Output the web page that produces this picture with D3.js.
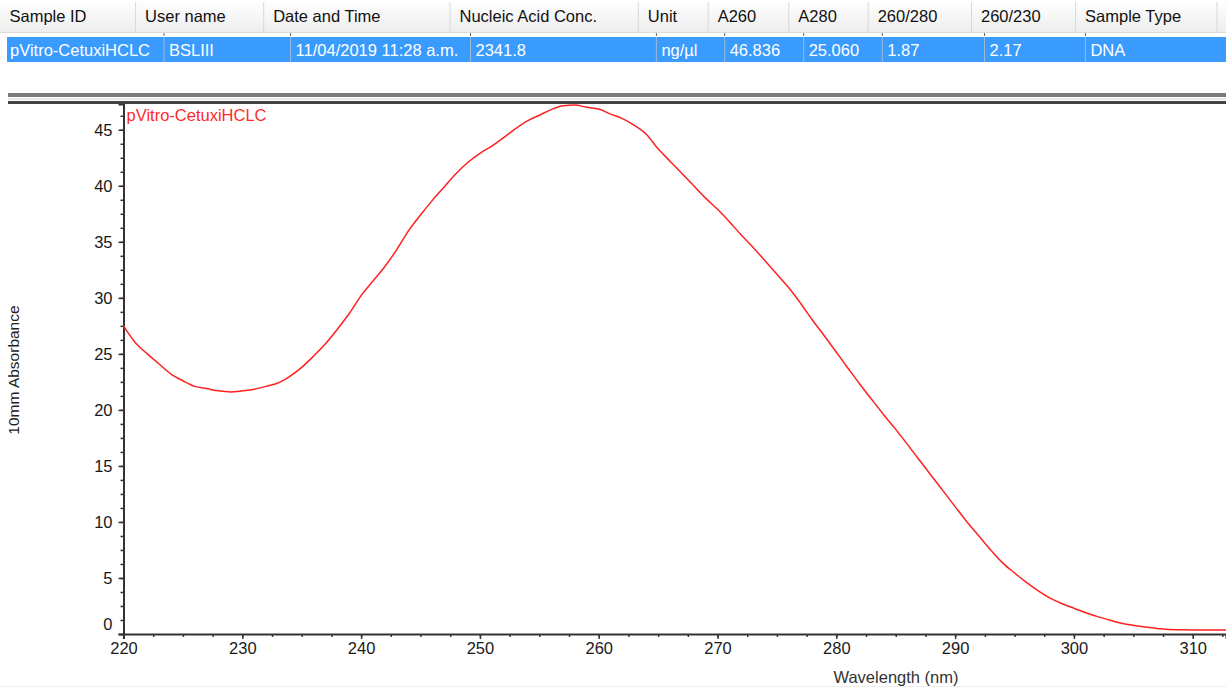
<!DOCTYPE html>
<html>
<head>
<meta charset="utf-8">
<script src="https://cdn.jsdelivr.net/npm/d3@7/dist/d3.min.js"></script>
<style>
  html, body { margin: 0; padding: 0; background: #fff; }
  svg { display: block; font-family: "Liberation Sans", Arial, sans-serif; }
</style>
</head>
<body>
<svg id="chart" width="1226" height="687"></svg>
<script>
// ---------- data ----------
const tableHeaders = ["Sample ID", "User name", "Date and Time", "Nucleic Acid Conc.", "Unit", "A260", "A280", "260/280", "260/230", "Sample Type"];
const tableRow = ["pVitro-CetuxiHCLC", "BSLIII", "11/04/2019 11:28 a.m.", "2341.8", "ng/µl", "46.836", "25.060", "1.87", "2.17", "DNA"];
const seriesName = "pVitro-CetuxiHCLC";
const wavelength = [220,221,222,223,224,225,226,227,228,229,230,231,232,233,234,235,236,237,238,239,
  240,241,242,243,244,245,246,247,248,249,250,251,252,253,254,255,256,257,258,259,
  260,261,262,263,264,265,266,267,268,269,270,271,272,273,274,275,276,277,278,279,
  280,281,282,283,284,285,286,287,288,289,290,291,292,293,294,295,296,297,298,299,
  300,301,302,303,304,305,306,307,308,309,310,311,312,312.8];
const absorbance = [27.5,26.0,25.0,24.1,23.2,22.6,22.1,21.9,21.7,21.6,21.7,21.85,22.1,22.4,23.0,23.8,24.8,25.9,27.2,28.6,
  30.2,31.5,32.8,34.3,36.0,37.4,38.7,39.9,41.1,42.1,42.9,43.55,44.3,45.1,45.8,46.3,46.8,47.15,47.2,47.0,
  46.85,46.4,46.0,45.4,44.6,43.3,42.2,41.1,40.0,38.9,37.9,36.8,35.6,34.5,33.3,32.1,30.9,29.5,28.0,26.6,
  25.15,23.7,22.27,20.9,19.55,18.26,16.9,15.5,14.13,12.75,11.37,10.0,8.75,7.5,6.35,5.45,4.6,3.85,3.2,2.7,
  2.3,1.9,1.55,1.25,0.95,0.78,0.62,0.5,0.4,0.38,0.36,0.35,0.35,0.35];
const xMajorTicks = [220,230,240,250,260,270,280,290,300,310];
const yMajorTicks = [0,5,10,15,20,25,30,35,40,45];
const xLabel = "Wavelength (nm)";
const yLabel = "10mm Absorbance";

// ---------- layout ----------
const headerCols = [0, 135.6, 263.7, 450, 638.3, 708.2, 788.8, 868.2, 971.5, 1075.6, 1217];
const rowCols = [7, 164, 290.6, 470.5, 656.4, 724.7, 803.7, 882.3, 984.5, 1085.4, 1226];
const plot = { left: 123.5, right: 1226, top: 104, bottom: 634 };

const svg = d3.select("#chart");

// ---------- table ----------
const defs = svg.append("defs");
const grad = defs.append("linearGradient").attr("id", "hdr").attr("x1", 0).attr("y1", 0).attr("x2", 0).attr("y2", 1);
grad.append("stop").attr("offset", "0%").attr("stop-color", "#ffffff");
grad.append("stop").attr("offset", "100%").attr("stop-color", "#eeeeee");

svg.append("rect").attr("x", 0).attr("y", 0).attr("width", 1226).attr("height", 32).attr("fill", "url(#hdr)");
svg.append("line").attr("x1", 0).attr("x2", 1226).attr("y1", 32.5).attr("y2", 32.5).attr("stroke", "#dcdcdc");
svg.selectAll("line.hsep").data(headerCols.slice(1)).join("line")
  .attr("class", "hsep").attr("x1", d => d).attr("x2", d => d).attr("y1", 2).attr("y2", 32)
  .attr("stroke", "#d8d8d8");
svg.selectAll("text.hdr").data(tableHeaders).join("text")
  .attr("class", "hdr").attr("x", (d, i) => headerCols[i] + 9.5).attr("y", 22)
  .attr("font-size", 16.5).attr("fill", "#111").text(d => d);
svg.selectAll("line.hmark").data(rowCols.slice(1, -1)).join("line")
  .attr("class", "hmark").attr("x1", d => d).attr("x2", d => d).attr("y1", 33).attr("y2", 36)
  .attr("stroke", "#666");

svg.append("rect").attr("x", 7).attr("y", 37).attr("width", 1219).attr("height", 25).attr("fill", "#3a9bff");
svg.selectAll("line.rsep").data(rowCols.slice(1, -1)).join("line")
  .attr("class", "rsep").attr("x1", d => d).attr("x2", d => d).attr("y1", 37).attr("y2", 62)
  .attr("stroke", "#9cb8d8").attr("stroke-width", 1);
svg.selectAll("text.cell").data(tableRow).join("text")
  .attr("class", "cell").attr("x", (d, i) => rowCols[i] + (i === 0 ? 3 : 5)).attr("y", 56)
  .attr("font-size", 16.5).attr("fill", "#ffffff").text(d => d);

// separator double line
svg.append("rect").attr("x", 8).attr("y", 93).attr("width", 1218).attr("height", 4).attr("fill", "#7a7a7a");
svg.append("rect").attr("x", 8).attr("y", 98.5).attr("width", 1218).attr("height", 1).attr("fill", "#d0d0d0");
svg.append("rect").attr("x", 8).attr("y", 101).attr("width", 1218).attr("height", 3).attr("fill", "#444");

// ---------- chart ----------
const x = d3.scaleLinear().domain([220, 312.8]).range([plot.left, plot.right]);
const y = d3.scaleLinear().domain([0, 47.3]).range([plot.bottom, plot.top]);

const axisColor = "#333";

// minor ticks
svg.append("g").attr("transform", `translate(0,${plot.bottom})`)
  .call(d3.axisBottom(x).tickValues(d3.range(220, 312.8, 2.5)).tickSize(3).tickFormat(""))
  .call(g => g.select(".domain").remove())
  .call(g => g.selectAll("line").attr("stroke", axisColor).attr("stroke-width", 1.5));
svg.append("g").attr("transform", `translate(${plot.left},0)`)
  .call(d3.axisLeft(y).tickValues(d3.range(0, 47.3, 1.25)).tickSize(3).tickFormat(""))
  .call(g => g.select(".domain").remove())
  .call(g => g.selectAll("line").attr("stroke", axisColor).attr("stroke-width", 1.5));

// major ticks + labels
const gx = svg.append("g").attr("transform", `translate(0,${plot.bottom})`)
  .call(d3.axisBottom(x).tickValues(xMajorTicks).tickSize(5).tickPadding(3).tickFormat(d3.format("d")));
gx.select(".domain").attr("stroke", axisColor).attr("stroke-width", 2);
gx.selectAll(".tick line").attr("stroke", axisColor).attr("stroke-width", 1.5);
gx.selectAll(".tick text").attr("font-size", 16.5).attr("fill", "#1a1a1a")
  .attr("font-family", "Liberation Sans, Arial, sans-serif");

const gy = svg.append("g").attr("transform", `translate(${plot.left},0)`)
  .call(d3.axisLeft(y).tickValues(yMajorTicks).tickSize(5).tickPadding(6).tickFormat(d3.format("d")));
gy.select(".domain").attr("stroke", axisColor).attr("stroke-width", 2);
gy.selectAll(".tick line").attr("stroke", axisColor).attr("stroke-width", 1.5);
gy.selectAll(".tick text").attr("font-size", 16.5).attr("fill", "#1a1a1a")
  .attr("font-family", "Liberation Sans, Arial, sans-serif")
  .attr("dy", d => d === 0 ? "-0.3em" : "0.32em");

// absorbance line
svg.append("path").datum(absorbance)
  .attr("d", d3.line().x((d, i) => x(wavelength[i])).y(d => y(d)).curve(d3.curveMonotoneX))
  .attr("fill", "none").attr("stroke", "#ff2020").attr("stroke-width", 1.5);

// series label
svg.append("text").attr("x", 126.5).attr("y", 121).attr("font-size", 16.5)
  .attr("fill", "#ff2a2a").text(seriesName);

// axis titles
svg.append("text").attr("x", 896).attr("y", 683).attr("text-anchor", "middle")
  .attr("font-size", 16.5).attr("fill", "#333").text(xLabel);
svg.append("text").attr("transform", "translate(19,370) rotate(-90)").attr("text-anchor", "middle")
  .attr("font-size", 15.5).attr("fill", "#222").text(yLabel);

// bottom faint line
svg.append("line").attr("x1", 0).attr("x2", 1226).attr("y1", 686.5).attr("y2", 686.5).attr("stroke", "#eeeeee");
</script>
</body>
</html>
